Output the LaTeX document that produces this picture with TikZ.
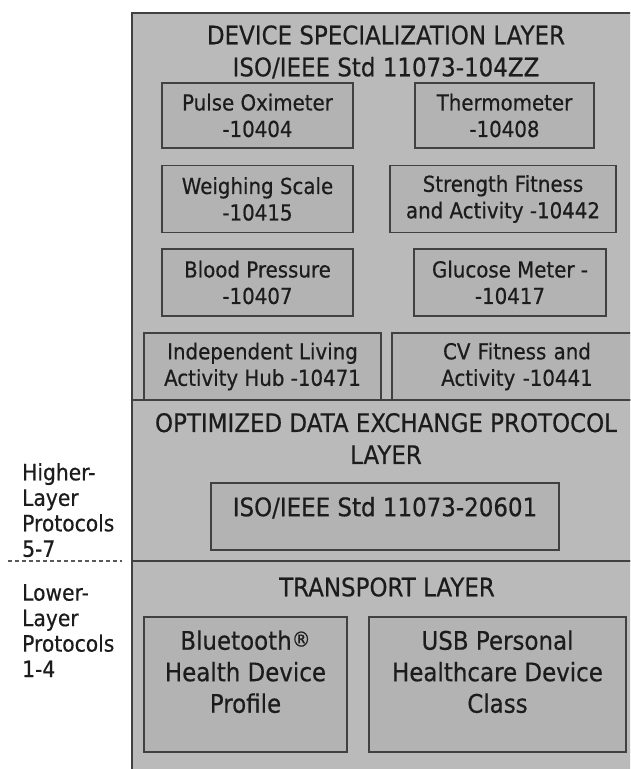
\documentclass[tikz,border=0pt]{standalone}
\usepackage{fontspec}
\setmainfont[FakeStretch=0.9,FakeBold=0.5]{DejaVu Sans}
\definecolor{layerfill}{RGB}{186,186,186}
\definecolor{boxfill}{RGB}{179,179,179}
\definecolor{edge}{RGB}{65,65,65}
\definecolor{ink}{RGB}{28,28,28}
\tikzset{
  layer/.style={draw=edge, line width=1.8pt, fill=layerfill},
  devbox/.style={draw=edge, line width=1.6pt, fill=boxfill, text=ink, align=center,
     inner sep=0pt, font=\fontsize{22}{26.5}\selectfont},
  bigbox/.style={draw=edge, line width=1.6pt, fill=boxfill, text=ink, align=center,
     inner sep=0pt, font=\fontsize{25.5}{31.5}\selectfont},
  title/.style={text=ink, align=center, inner sep=0pt, font=\fontsize{25.5}{32}\selectfont},
  side/.style={text=ink, align=left, anchor=north west, inner sep=0pt, font=\fontsize{22.5}{25.5}\selectfont},
  sep/.style={draw=gray!70!black, line width=1.3pt, dash pattern=on 4pt off 3pt},
}
\begin{document}
\begin{tikzpicture}[x=1pt,y=-1pt]
\useasboundingbox (0,0) rectangle (630,769);
\begin{scope}
\clip (0,0) rectangle (630,769);
% layers
\draw[layer] (132,13) rectangle (650,400);
\draw[layer] (132,400) rectangle (650,561);
\draw[layer] (132,561) rectangle (650,790);
% device specialization layer
\node[title] (devtitle) at (386,52) {DEVICE SPECIALIZATION LAYER\\ISO/IEEE Std 11073-104ZZ};
\node[devbox, minimum width=191pt, minimum height=65pt] (pulse) at (257.5,115.5) {Pulse Oximeter\\-10404};
\node[devbox, minimum width=179pt, minimum height=65pt] (thermo) at (504.5,115.5) {Thermometer\\-10408};
\node[devbox, minimum width=191pt, minimum height=67pt] (weigh) at (257.5,199) {Weighing Scale\\-10415};
\node[devbox, minimum width=226pt, minimum height=67pt] (strength) at (503,199) {Strength Fitness\\and Activity -10442};
\node[devbox, minimum width=191pt, minimum height=67pt] (blood) at (257.5,282.5) {Blood Pressure\\-10407};
\node[devbox, minimum width=192pt, minimum height=67pt] (glucose) at (510,282.5) {Glucose Meter -\\-10417};
\node[devbox, minimum width=237pt, minimum height=67pt] (indep) at (262.5,366.5) {Independent Living\\Activity Hub -10471};
\node[devbox, minimum width=250pt, minimum height=67pt, text width=238pt] (cv) at (517,366.5) {CV Fitness and\\Activity -10441};
% optimized data exchange layer
\node[title] (odetitle) at (386,438.5) {OPTIMIZED DATA EXCHANGE PROTOCOL\\LAYER};
\node[bigbox, minimum width=348pt, minimum height=67pt, text depth=20pt] (iso) at (385,516.5) {ISO/IEEE Std 11073-20601};
% transport layer
\node[title] (tptitle) at (387,587) {TRANSPORT LAYER};
\node[bigbox, minimum width=203pt, minimum height=135pt, text depth=26pt] (bt) at (245.5,684.5) {Bluetooth\raisebox{3pt}{\fontsize{21}{21}\selectfont ®}\\Health Device\\Profile};
\node[bigbox, minimum width=257pt, minimum height=135pt, text depth=26pt] (usb) at (497.5,684.5) {USB Personal\\Healthcare Device\\Class};
\end{scope}
% side labels
\node[side] (higher) at (22,463) {Higher-\\Layer\\Protocols\\5-7};
\node[side] (lower) at (22,584) {Lower-\\Layer\\Protocols\\1-4};
\coordinate (dashL) at (8,561);
\coordinate (dashR) at (122,561);
\draw[sep] (dashL) -- (dashR);
\end{tikzpicture}
\end{document}
